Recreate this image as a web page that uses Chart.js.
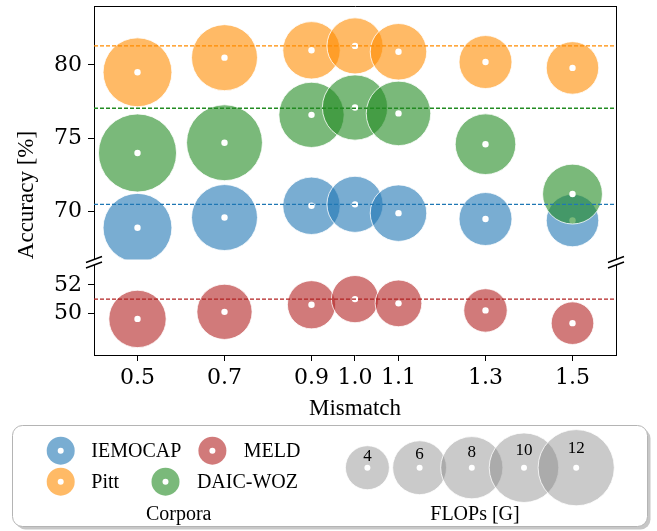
<!DOCTYPE html>
<html>
<head>
<meta charset="utf-8">
<script src="https://cdn.jsdelivr.net/npm/chart.js@4.4.1/dist/chart.umd.min.js"></script>
<style>
  html, body { margin: 0; padding: 0; background: #fff; }
  #wrap { width: 657px; height: 531px; }
</style>
</head>
<body>
<div id="wrap"><canvas id="bubbleChart" width="657" height="531"></canvas></div>
<script>
// ---- data ----
const mismatch = [0.5, 0.7, 0.9, 1.0, 1.1, 1.3, 1.5];
const xTicks = [0.5, 0.7, 0.9, 1.0, 1.1, 1.3, 1.5];
const yTopTicks = [70, 75, 80];
const yBottomTicks = [50, 52];

const iemocapAcc = [68.9, 69.6, 70.4, 70.5, 69.9, 69.5, 69.4];
const pittAcc    = [79.5, 80.5, 81.0, 81.3, 80.9, 80.2, 79.8];
const daicAcc    = [74.0, 74.7, 76.6, 77.1, 76.7, 74.6, 71.2];
const meldAcc    = [49.6, 50.1, 50.6, 51.0, 50.7, 50.2, 49.3];

// FLOPs [G] per point (bubble area)
const iemocapFlops = [9.8, 9.0, 6.8, 6.5, 6.6, 5.8, 5.7];
const pittFlops    = [9.8, 9.0, 6.8, 6.5, 6.6, 5.8, 5.7];
const daicFlops    = [12.6, 11.9, 8.8, 8.8, 8.6, 7.6, 7.4];
const meldFlops    = [6.8, 6.3, 4.8, 4.6, 4.5, 3.9, 3.75];

// dashed reference lines (mismatch = 1.0)
const iemocapBase = 70.5;
const pittBase = 81.3;
const daicBase = 77.05;
const meldBase = 51.0;

const flopsLegend = [4, 6, 8, 10, 12];

// ---- style ----
const X_MIN = 0.4, X_MAX = 1.6;
const R_PER_SQRT_GFLOP = 11;   // bubble radius in px = k * sqrt(FLOPs)
const SERIF = '"Liberation Serif", "Times New Roman", serif';
const TICK_FONT = { family: '"DejaVu Serif", serif', size: 22 };

const corpora = [
  { name: 'IEMOCAP',  acc: iemocapAcc, flops: iemocapFlops, base: iemocapBase, axis: 'yTop',
    fill: 'rgba(31,119,180,0.6)',  line: '#1f77b4' },
  { name: 'MELD',     acc: meldAcc,    flops: meldFlops,    base: meldBase,    axis: 'yBottom',
    fill: 'rgba(178,34,34,0.6)',   line: '#b22222' },
  { name: 'Pitt',     acc: pittAcc,    flops: pittFlops,    base: pittBase,    axis: 'yTop',
    fill: 'rgba(255,140,0,0.6)',   line: '#ff8c00' },
  { name: 'DAIC-WOZ', acc: daicAcc,    flops: daicFlops,    base: daicBase,    axis: 'yTop',
    fill: 'rgba(34,139,34,0.6)',   line: '#228b22' }
];

const radiusFor = f => R_PER_SQRT_GFLOP * Math.sqrt(f);

// build datasets: bubbles + white centre dots per corpus, dashed lines on top
const datasets = [];
corpora.forEach((c, k) => {
  const drawOrder = 100 - k * 10;   // later corpora drawn above earlier ones
  datasets.push({
    type: 'bubble',
    label: c.name,
    yAxisID: c.axis,
    order: drawOrder,
    data: mismatch.map((x, i) => ({ x: x, y: c.acc[i], r: radiusFor(c.flops[i]) })),
    backgroundColor: c.fill,
    borderColor: 'rgba(255,255,255,0.8)',
    borderWidth: 1,
    hoverRadius: 0
  });
  datasets.push({
    type: 'scatter',
    label: c.name + ' centre',
    yAxisID: c.axis,
    order: drawOrder - 1,
    data: mismatch.map((x, i) => ({ x: x, y: c.acc[i] })),
    pointRadius: 3.2,
    pointBackgroundColor: '#fff',
    pointBorderWidth: 0,
    showLine: false
  });
});
corpora.forEach(c => {
  datasets.push({
    type: 'line',
    label: c.name + ' ref',
    yAxisID: c.axis,
    order: 0,
    data: [{ x: X_MIN, y: c.base }, { x: X_MAX, y: c.base }],
    borderColor: c.line,
    borderWidth: 1.3,
    borderDash: [4, 2],
    pointRadius: 0,
    fill: false
  });
});

// no label overflow padding: the panels must fill their slot exactly
function noPadding(s) {
  s.paddingTop = 0;
  s.paddingBottom = 0;
}

function yAxis(min, max, ticks, weight) {
  return {
    type: 'linear',
    position: 'left',
    stack: 'acc',
    stackWeight: weight,
    min: min,
    max: max,
    afterBuildTicks: s => { s.ticks = ticks.map(v => ({ value: v })); },
    afterFit: s => { s.width = 94; noPadding(s); },
    ticks: { font: TICK_FONT, color: '#000', padding: 6 },
    grid: { drawOnChartArea: false, drawTicks: true, tickLength: 6, color: '#000', lineWidth: 1 },
    border: { display: true, color: '#000', width: 1 }
  };
}

// frame pieces, axis break marks, y label, x label and the legend box
const decorations = {
  id: 'decorations',
  afterDraw(chart) {
    const ctx = chart.ctx;
    const { left, right } = chart.chartArea;
    const yt = chart.scales.yTop, yb = chart.scales.yBottom;
    ctx.save();
    ctx.strokeStyle = '#000';
    ctx.lineWidth = 1;
    ctx.beginPath();
    ctx.moveTo(left, Math.round(yt.top) + 0.5);
    ctx.lineTo(right + 1, Math.round(yt.top) + 0.5);
    ctx.moveTo(Math.round(right) + 0.5, yt.top);
    ctx.lineTo(Math.round(right) + 0.5, yt.bottom);
    ctx.moveTo(Math.round(right) + 0.5, yb.top);
    ctx.lineTo(Math.round(right) + 0.5, yb.bottom);
    ctx.stroke();

    ctx.lineWidth = 1.4;
    ctx.beginPath();
    [[left, yt.bottom], [right, yt.bottom], [left, yb.top], [right, yb.top]].forEach(([x, y]) => {
      ctx.moveTo(x - 8, y + 3);
      ctx.lineTo(x + 8, y - 3);
    });
    ctx.stroke();

    // axis titles
    ctx.fillStyle = '#000';
    ctx.font = '23px ' + SERIF;
    ctx.textAlign = 'center';
    ctx.textBaseline = 'alphabetic';
    ctx.fillText('Mismatch', (left + right) / 2, 415);
    ctx.save();
    ctx.translate(32.5, 195);
    ctx.rotate(-Math.PI / 2);
    ctx.fillText('Accuracy [%]', 0, 0);
    ctx.restore();

    // legend frame with shadow
    ctx.fillStyle = 'rgba(0,0,0,0.22)';
    ctx.beginPath();
    ctx.roundRect(15.5, 428.5, 635, 101, 10);
    ctx.fill();
    ctx.fillStyle = '#fff';
    ctx.strokeStyle = '#b4b4b4';
    ctx.lineWidth = 1;
    ctx.beginPath();
    ctx.roundRect(12.5, 425.5, 635, 101, 10);
    ctx.fill();
    ctx.stroke();

    // corpora entries
    const entries = [
      { c: corpora[0], mx: 60.7,  my: 450.7, tx: 91.3 },
      { c: corpora[1], mx: 212.4, my: 450.7, tx: 243.8 },
      { c: corpora[2], mx: 60.7,  my: 481.7, tx: 91.3 },
      { c: corpora[3], mx: 165.5, my: 481.7, tx: 196.9 }
    ];
    ctx.font = '20px ' + SERIF;
    ctx.textAlign = 'left';
    entries.forEach(e => {
      ctx.fillStyle = e.c.fill;
      ctx.beginPath();
      ctx.arc(e.mx, e.my, 14, 0, Math.PI * 2);
      ctx.fill();
      ctx.fillStyle = '#fff';
      ctx.beginPath();
      ctx.arc(e.mx, e.my, 3, 0, Math.PI * 2);
      ctx.fill();
      ctx.fillStyle = '#000';
      ctx.fillText(e.c.name, e.tx, e.my + 6.6);
    });
    ctx.textAlign = 'center';
    ctx.fillText('Corpora', 178.7, 520);
    ctx.fillText('FLOPs [G]', 475, 520);

    // FLOPs size legend
    const cy = 467.7;
    flopsLegend.forEach((f, i) => {
      const cx = 367.4 + i * 52.2;
      const r = radiusFor(f);
      ctx.fillStyle = 'rgba(128,128,128,0.42)';
      ctx.strokeStyle = 'rgba(255,255,255,0.8)';
      ctx.beginPath();
      ctx.arc(cx, cy, r, 0, Math.PI * 2);
      ctx.fill();
      ctx.stroke();
      ctx.fillStyle = '#fff';
      ctx.beginPath();
      ctx.arc(cx, cy, 3, 0, Math.PI * 2);
      ctx.fill();
    });
    ctx.fillStyle = '#000';
    ctx.font = '17px ' + SERIF;
    ctx.textBaseline = 'middle';
    flopsLegend.forEach((f, i) => {
      const cx = 367.4 + i * 52.2;
      ctx.fillText(String(f), cx, cy - radiusFor(f) * 0.5);
    });
    ctx.restore();
  }
};

new Chart(document.getElementById('bubbleChart').getContext('2d'), {
  type: 'bubble',
  data: { datasets: datasets },
  options: {
    responsive: false,
    animation: false,
    devicePixelRatio: 1,
    events: [],
    layout: { autoPadding: false, padding: { top: 6, right: 41, left: 0, bottom: 0 } },
    plugins: { legend: { display: false }, tooltip: { enabled: false } },
    scales: {
      x: {
        type: 'linear',
        position: 'bottom',
        min: X_MIN,
        max: X_MAX,
        afterBuildTicks: s => { s.ticks = xTicks.map(v => ({ value: v })); },
        afterFit: s => { s.height = 176; s.paddingLeft = 0; s.paddingRight = 0; },
        ticks: { font: TICK_FONT, color: '#000', padding: 4, autoSkip: false, maxRotation: 0,
                 callback: v => v.toFixed(1) },
        grid: { drawOnChartArea: false, drawTicks: true, tickLength: 6, color: '#000', lineWidth: 1 },
        border: { display: true, color: '#000', width: 1 }
      },
      yBottom: yAxis(47.05, 53.41, yBottomTicks, 90),
      yGap: {
        type: 'linear',
        position: 'left',
        stack: 'acc',
        stackWeight: 5.5,
        afterFit: s => { s.width = 94; noPadding(s); },
        ticks: { display: false },
        grid: { display: false },
        border: { display: false }
      },
      yTop: yAxis(66.74, 84.02, yTopTicks, 253.5)
    }
  },
  plugins: [decorations]
});
</script>
</body>
</html>
